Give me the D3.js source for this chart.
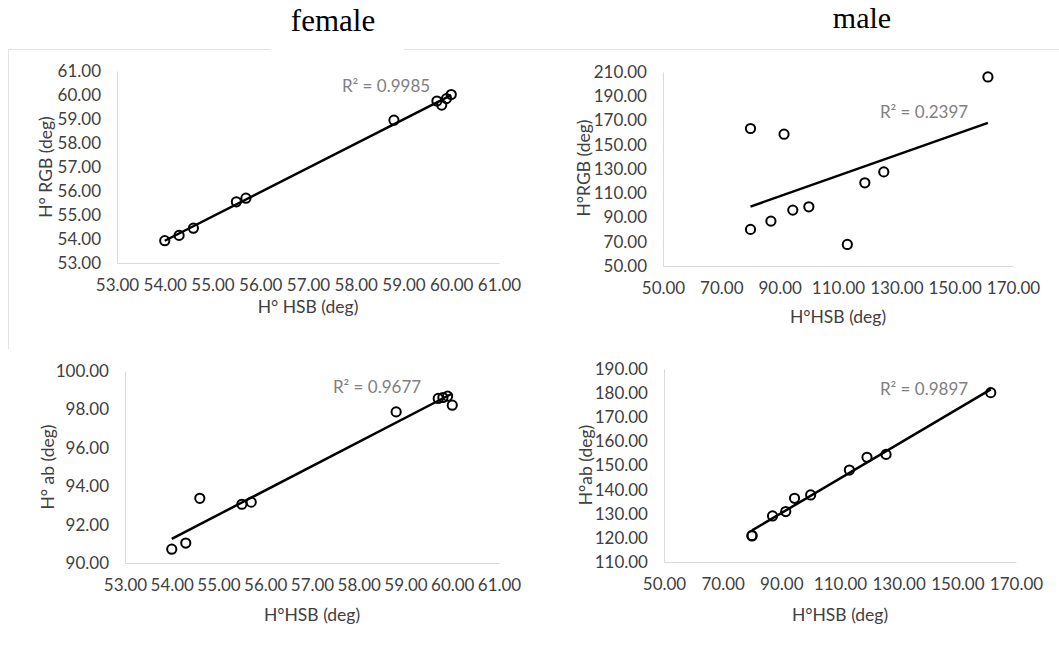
<!DOCTYPE html>
<html>
<head>
<meta charset="utf-8">
<script src="https://cdn.jsdelivr.net/npm/d3@7"></script>
<style>
  html, body { margin: 0; padding: 0; background: #fff; }
  svg { display: block; }
</style>
</head>
<body>
<svg id="chart" width="1059" height="648"></svg>
<script>
// ---- data ----
const femaleHSB = [54.0, 54.3, 54.6, 55.5, 55.7, 58.8, 59.7, 59.8, 59.9, 60.0];
const femaleRGB = [53.93, 54.15, 54.45, 55.55, 55.70, 58.95, 59.75, 59.58, 59.85, 60.02];
const femaleAB  = [90.72, 91.04, 93.37, 93.06, 93.17, 97.87, 98.57, 98.62, 98.69, 98.22];

const maleHSB = [80.0, 80.0, 87.0, 91.5, 94.5, 100.0, 113.2, 119.2, 125.7, 161.4];
const maleRGB = [163.4, 80.2, 87.0, 158.7, 96.1, 98.8, 67.8, 118.6, 127.6, 205.9];
const maleAB  = [121.0, 120.8, 129.1, 130.9, 136.4, 137.8, 148.1, 153.4, 154.6, 180.2];

const femaleXTicks = [53, 54, 55, 56, 57, 58, 59, 60, 61];
const femaleRGBTicks = [53, 54, 55, 56, 57, 58, 59, 60, 61];
const femaleABTicks = [90, 92, 94, 96, 98, 100];
const maleXTicks = [50, 70, 90, 110, 130, 150, 170];
const maleRGBTicks = [50, 70, 90, 110, 130, 150, 170, 190, 210];
const maleABTicks = [110, 120, 130, 140, 150, 160, 170, 180, 190];

const r2Labels = ["R² = 0.9985", "R² = 0.2397", "R² = 0.9677", "R² = 0.9897"];
const titles = ["female", "male"];
const xTitles = ["H° HSB (deg)", "H°HSB (deg)", "H°HSB (deg)", "H°HSB (deg)"];
const yTitles = ["H° RGB (deg)", "H°RGB (deg)", "H° ab (deg)", "H°ab (deg)"];

// ---- layout ----
const svg = d3.select("#chart");
const FONT = "Lato, 'Open Sans', sans-serif";
const TICK_FS = 17;
const TITLE_FS = 17.5;

// frame lines (faint)
svg.append("line").attr("x1", 8).attr("x2", 1059).attr("y1", 49.5).attr("y2", 49.5)
  .attr("stroke", "#e3e3e3").attr("stroke-width", 1);
svg.append("line").attr("x1", 8.5).attr("x2", 8.5).attr("y1", 49).attr("y2", 349)
  .attr("stroke", "#e3e3e3").attr("stroke-width", 1);
// white background behind female title
svg.append("rect").attr("x", 271).attr("y", 0).attr("width", 133).attr("height", 52).attr("fill", "#fff");

svg.append("text").attr("x", 333).attr("y", 31).attr("text-anchor", "middle")
  .attr("font-family", "'Liberation Serif', 'Times New Roman', serif").attr("font-size", 31)
  .attr("fill", "#000").text(titles[0]);
svg.append("text").attr("x", 862).attr("y", 28).attr("text-anchor", "middle")
  .attr("font-family", "'Liberation Serif', 'Times New Roman', serif").attr("font-size", 30)
  .attr("fill", "#000").text(titles[1]);

const panels = [
  { xs: femaleHSB, ys: femaleRGB, xd: [53, 61], yd: [53, 61], xt: femaleXTicks, yt: femaleRGBTicks,
    x0: 117, x1: 499, y0: 71, y1: 263, r2: [386, 92], xT: [308, 313], yT: [45, 167] },
  { xs: maleHSB, ys: maleRGB, xd: [50, 170], yd: [50, 210], xt: maleXTicks, yt: maleRGBTicks,
    x0: 663, x1: 1013, y0: 72, y1: 266, r2: [924, 118], xT: [838, 323], yT: [583, 168] },
  { xs: femaleHSB, ys: femaleAB, xd: [53, 61], yd: [90, 100], xt: femaleXTicks, yt: femaleABTicks,
    x0: 125, x1: 499, y0: 371, y1: 563, r2: [377, 393], xT: [312, 621], yT: [47, 467] },
  { xs: maleHSB, ys: maleAB, xd: [50, 170], yd: [110, 190], xt: maleXTicks, yt: maleABTicks,
    x0: 664, x1: 1016, y0: 369, y1: 562, r2: [924, 395], xT: [840, 621], yT: [585, 465] }
];

function linreg(xs, ys) {
  const n = xs.length;
  const mx = d3.mean(xs), my = d3.mean(ys);
  let sxy = 0, sxx = 0;
  for (let i = 0; i < n; i++) { sxy += (xs[i] - mx) * (ys[i] - my); sxx += (xs[i] - mx) ** 2; }
  const b = sxy / sxx;
  return { a: my - b * mx, b };
}

panels.forEach((p, i) => {
  const x = d3.scaleLinear().domain(p.xd).range([p.x0, p.x1]);
  const y = d3.scaleLinear().domain(p.yd).range([p.y1, p.y0]);
  const g = svg.append("g");

  const xAxis = g.append("g").attr("transform", `translate(0,${p.y1})`)
    .call(d3.axisBottom(x).tickValues(p.xt).tickFormat(d3.format(".2f")).tickSize(0).tickPadding(16));
  const yAxis = g.append("g").attr("transform", `translate(${p.x0},0)`)
    .call(d3.axisLeft(y).tickValues(p.yt).tickFormat(d3.format(".2f")).tickSize(0).tickPadding(16));
  [xAxis, yAxis].forEach(ax => {
    ax.select(".domain").attr("stroke", "#d9d9d9").attr("stroke-width", 1);
    ax.selectAll("text").attr("font-family", FONT).attr("font-size", TICK_FS).attr("fill", "#404040");
  });

  // trendline
  const lr = linreg(p.xs, p.ys);
  const xmin = d3.min(p.xs), xmax = d3.max(p.xs);
  g.append("line")
    .attr("x1", x(xmin)).attr("y1", y(lr.a + lr.b * xmin))
    .attr("x2", x(xmax)).attr("y2", y(lr.a + lr.b * xmax))
    .attr("stroke", "#000").attr("stroke-width", 2.5);

  // points
  g.selectAll("circle.pt").data(p.xs.map((v, k) => [v, p.ys[k]])).enter()
    .append("circle").attr("class", "pt")
    .attr("cx", d => x(d[0])).attr("cy", d => y(d[1])).attr("r", 4.6)
    .attr("fill", "none").attr("stroke", "#000").attr("stroke-width", 2);

  // R2
  g.append("text").attr("x", p.r2[0]).attr("y", p.r2[1]).attr("text-anchor", "middle")
    .attr("font-family", FONT).attr("font-size", TICK_FS).attr("fill", "#808080").text(r2Labels[i]);

  // axis titles
  g.append("text").attr("x", p.xT[0]).attr("y", p.xT[1]).attr("text-anchor", "middle")
    .attr("font-family", FONT).attr("font-size", TITLE_FS).attr("fill", "#404040").text(xTitles[i]);
  g.append("text").attr("transform", `translate(${p.yT[0]},${p.yT[1]}) rotate(-90)`)
    .attr("text-anchor", "middle").attr("dominant-baseline", "central")
    .attr("font-family", FONT).attr("font-size", TITLE_FS).attr("fill", "#404040").text(yTitles[i]);
});
</script>
</body>
</html>
